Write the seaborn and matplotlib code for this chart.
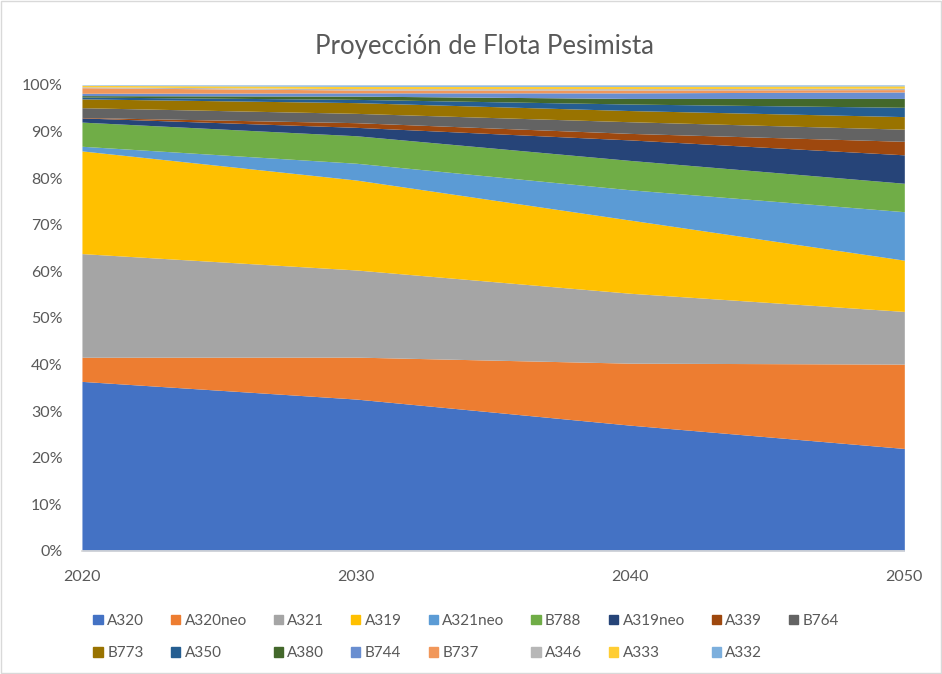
import seaborn as sns
import matplotlib.pyplot as plt
import matplotlib.patches as mpatches
import pandas as pd
import numpy as np

# Datos (participacion % por modelo)
anios = [2020, 2030, 2040, 2050]
modelos = ['A320', 'A320neo', 'A321', 'A319', 'A321neo', 'B788', 'A319neo', 'A339', 'B764',
           'B773', 'A350', 'A380', 'B744', 'B737', 'A346', 'A333', 'A332']

A320 = [36.5, 32.6, 27.0, 22.0]
A320neo = [5.2, 9.0, 13.3, 18.1]
A321 = [22.3, 18.7, 15.0, 11.3]
A319 = [22.1, 19.3, 15.7, 11.0]
A321neo = [1.0, 3.6, 6.5, 10.4]
B788 = [5.2, 5.9, 6.3, 6.1]
A319neo = [0.9, 1.8, 4.4, 6.1]
A339 = [0.1, 1.0, 1.4, 2.9]
B764 = [2.1, 2.0, 2.5, 2.6]
B773 = [1.9, 2.3, 2.4, 2.7]
A350 = [0.4, 0.7, 1.4, 2.0]
A380 = [0.3, 0.7, 1.2, 1.9]
B744 = [0.5, 0.7, 1.2, 1.4]
B737 = [1.2, 0.6, 0.6, 0.5]
A346 = [0.2, 0.3, 0.3, 0.3]
A333 = [0.3, 0.5, 0.5, 0.5]
A332 = [0.1, 0.3, 0.3, 0.2]

colores = ['#4472C4', '#ED7D31', '#A5A5A5', '#FFC000', '#5B9BD5', '#70AD47', '#264478', '#9E480E',
           '#636363', '#997300', '#255E91', '#43682B', '#698ED0', '#F1975A', '#B7B7B7', '#FFCD33',
           '#7CAFDD']

df = pd.DataFrame({
    'A320': A320, 'A320neo': A320neo, 'A321': A321, 'A319': A319, 'A321neo': A321neo,
    'B788': B788, 'A319neo': A319neo, 'A339': A339, 'B764': B764, 'B773': B773,
    'A350': A350, 'A380': A380, 'B744': B744, 'B737': B737, 'A346': A346,
    'A333': A333, 'A332': A332
}, index=anios)
pct = df.div(df.sum(axis=1), axis=0) * 100

sns.set_theme(style='white')
plt.rcParams['font.family'] = ['Lato', 'DejaVu Sans']

fig = plt.figure(figsize=(9.42, 6.74), dpi=100)
ax = fig.add_axes([0.087, 0.1825, 0.873, 0.6915])

ax.stackplot(pct.index, [pct[m].values for m in modelos], colors=colores, labels=modelos,
             linewidth=0)

ax.set_xlim(2020, 2050)
ax.set_ylim(0, 100)
ax.set_xticks(anios)
ax.set_yticks(np.arange(0, 101, 10))
ax.set_yticklabels([f'{v}%' for v in range(0, 101, 10)])
ax.tick_params(axis='both', labelsize=11.5, colors='#595959', length=0)
ax.tick_params(axis='y', pad=14)
ax.tick_params(axis='x', pad=14)
for lado in ['top', 'right', 'left']:
    ax.spines[lado].set_visible(False)
ax.spines['bottom'].set_color('#D9D9D9')

fig.suptitle('Proyección de Flota Pesimista', x=0.514, y=0.95, fontsize=18.5, color='#595959')

# leyenda en dos filas (orden por filas)
fila1 = modelos[:9]
fila2 = modelos[9:]
orden = []
for i in range(9):
    orden.append(fila1[i])
    if i < len(fila2):
        orden.append(fila2[i])
handles = [mpatches.Patch(color=colores[modelos.index(m)], label=m) for m in orden]
fig.legend(handles=handles, loc='lower center', bbox_to_anchor=(0.495, 0.0), ncol=9,
           frameon=False, fontsize=11, handlelength=0.6, handleheight=0.6,
           handletextpad=0.3, columnspacing=1.75, labelspacing=1.2, labelcolor='#595959')

fig.patches.append(mpatches.Rectangle((0.001, 0.001), 0.998, 0.998, transform=fig.transFigure,
                                      fill=False, edgecolor='#D9D9D9', linewidth=1))

plt.savefig('out.png', dpi=100)
